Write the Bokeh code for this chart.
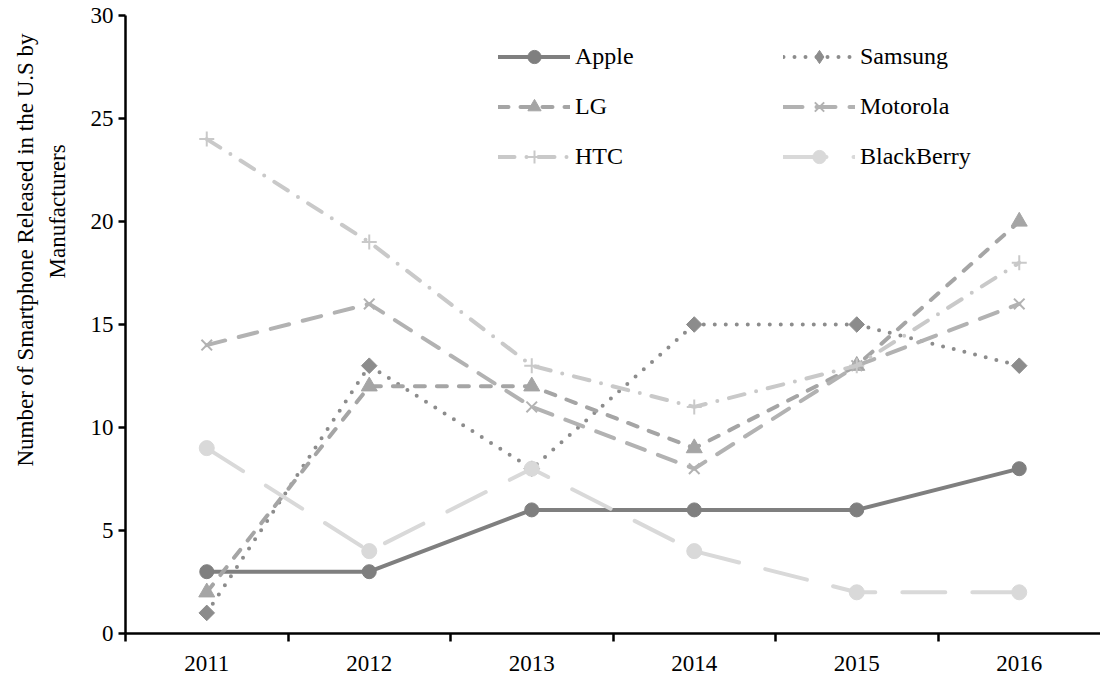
import math
from bokeh.plotting import figure
from bokeh.models import Range1d, FixedTicker, Legend, LegendItem, Title, LinearAxis
from bokeh.embed import file_html
from bokeh.resources import INLINE

years = ["2011", "2012", "2013", "2014", "2015", "2016"]
apple = [3, 3, 6, 6, 6, 8]
samsung = [1, 13, 8, 15, 15, 13]
lg = [2, 12, 12, 9, 13, 20]
motorola = [14, 16, 11, 8, 13, 16]
htc = [24, 19, 13, 11, 13, 18]
blackberry = [9, 4, 8, 4, 2, 2]
y_ticks = [0, 5, 10, 15, 20, 25, 30]
y_title_1 = "Number of Smartphone Released in the U.S by"
y_title_2 = "Manufacturers"

FONT = "'Liberation Serif', 'Times New Roman', 'DejaVu Serif', serif"
W, H = 1100, 677
LEFT, TOP, BOTTOM = 125, 15, 44
STEP = 162.5
xs = [int(y) for y in years]
span = (W - LEFT) / STEP
frame_h = H - TOP - BOTTOM

p = figure(width=W, height=H, output_backend="svg", toolbar_location=None,
           x_range=Range1d(xs[0] - 0.5, xs[0] - 0.5 + span), y_range=Range1d(0, 30),
           min_border_left=LEFT, min_border_top=TOP, min_border_bottom=BOTTOM,
           min_border_right=0, outline_line_color=None)
p.xgrid.visible = False
p.ygrid.visible = False

# x axis: labels at categories, ticks between them
xa = p.xaxis[0]
xa.ticker = FixedTicker(ticks=xs, minor_ticks=[v - 0.5 for v in xs])
xa.major_label_overrides = {v: s for v, s in zip(xs, years)}
xa.major_tick_out = 0
xa.major_tick_in = 0
xa.minor_tick_out = 8
xa.minor_tick_in = 0
xa.minor_tick_line_width = 2.5
xa.minor_tick_line_color = "black"
xa.axis_line_width = 2.5
xa.axis_line_color = "black"
xa.major_label_standoff = 14
xa.major_label_text_font = FONT
xa.major_label_text_font_size = "23px"
xa.major_label_text_color = "black"

ya = p.yaxis[0]
ya.ticker = FixedTicker(ticks=y_ticks, minor_ticks=[])
ya.major_tick_out = 7
ya.major_tick_in = 0
ya.major_tick_line_width = 2.5
ya.major_tick_line_color = "black"
ya.axis_line_width = 2.5
ya.axis_line_color = "black"
ya.major_label_standoff = 5
ya.major_label_text_font = FONT
ya.major_label_text_font_size = "23px"
ya.major_label_text_color = "black"

series = [
    ("Apple", apple, "#7f7f7f", "solid", "circle", 14, 0),
    ("Samsung", samsung, "#8c8c8c", "0 11", "square", 11, math.pi / 4),
    ("LG", lg, "#a5a5a5", "10 12", "triangle", 16, 0),
    ("Motorola", motorola, "#b2b2b2", "19 14", "x", 15, 0),
    ("HTC", htc, "#c9c9c9", "16 12 0 12", "cross", 15, 0),
    ("BlackBerry", blackberry, "#d9d9d9", "43 27", "circle", 15, 0),
]

items = {}
for name, vals, color, dash, marker, size, ang in series:
    lr = p.line(xs, vals, line_color=color, line_width=4, line_dash=dash,
                line_cap="round", line_join="round")
    if marker in ("x", "cross"):
        sr = p.scatter(xs, vals, marker=marker, size=size, line_color=color,
                       line_width=2, fill_color=None)
        legend_r = [lr, sr]
    else:
        sr = p.scatter(xs, vals, marker=marker, size=size, angle=ang, line_color=color,
                       fill_color=color, line_width=1)
        legend_r = [lr, sr]
        if marker == "square":
            # legend-only glyph (legend draws markers unrotated); not visible on the plot
            dr = p.scatter([float("nan")], [float("nan")], marker="diamond", size=size,
                           line_color=color, fill_color=color, line_width=1)
            legend_r = [lr, dr]
    items[name] = LegendItem(label=name, renderers=legend_r)

GH, SP = 33, 17


def make_legend(names, x):
    lg_h = 3 * GH + 2 * SP
    return Legend(items=[items[n] for n in names], location=(x, frame_h - 25 - lg_h),
                  border_line_color=None, background_fill_alpha=0, padding=0, margin=0,
                  spacing=SP, label_height=GH, glyph_height=GH, glyph_width=72,
                  label_standoff=5, label_text_font=FONT, label_text_font_size="24px",
                  label_text_color="black")


p.add_layout(make_legend(["Apple", "LG", "HTC"], 373))
p.add_layout(make_legend(["Samsung", "Motorola", "BlackBerry"], 658))

# spacer between tick labels and the axis title lines (draws nothing)
spacer = LinearAxis(ticker=FixedTicker(ticks=[], minor_ticks=[]), major_tick_out=18,
                    major_tick_in=0, minor_tick_out=0, axis_line_color=None,
                    major_tick_line_color=None, minor_tick_line_color=None,
                    major_label_standoff=0)
p.add_layout(spacer, "left")

t2 = Title(text=y_title_2, align="left", offset=355, standoff=35,
           text_font=FONT, text_font_size="23px", text_font_style="normal",
           text_color="black")
t1 = Title(text=y_title_1, align="left", offset=167, standoff=-25,
           text_font=FONT, text_font_size="23px", text_font_style="normal",
           text_color="black")
p.add_layout(t2, "left")
p.add_layout(t1, "left")

open("out.html", "w").write(file_html(p, INLINE))
